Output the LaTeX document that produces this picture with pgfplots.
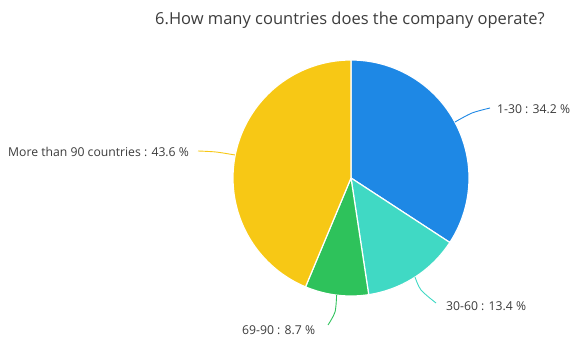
\documentclass[border=0pt]{standalone}
\usepackage{pgfplots}
\pgfplotsset{compat=1.18}
\usepackage{fontspec}
\setmainfont{Open Sans}
\definecolor{cblue}{RGB}{30,136,229}
\definecolor{cturq}{RGB}{64,217,196}
\definecolor{cgreen}{RGB}{46,194,91}
\definecolor{cyellow}{RGB}{247,200,21}
\definecolor{ctext}{RGB}{60,60,60}
\begin{document}
\begin{tikzpicture}
\begin{axis}[hide axis, scale only axis, width=573pt, height=338pt,
  xmin=0, xmax=573, ymin=0, ymax=338, clip=false]
% slices: 34.2, 13.4, 8.7, 43.6 percent, clockwise from top (angle = 90 - 3.6*cumulative)
\addplot[fill=cblue, draw=white, line width=1.2pt, domain=-33.12:90, samples=90, variable=\t]
  ({351+118*cos(\t)},{160+118*sin(\t)}) -- (axis cs:351,160) -- cycle;
\addplot[fill=cturq, draw=white, line width=1.2pt, domain=-81.36:-33.12, samples=40, variable=\t]
  ({351+118*cos(\t)},{160+118*sin(\t)}) -- (axis cs:351,160) -- cycle;
\addplot[fill=cgreen, draw=white, line width=1.2pt, domain=-112.68:-81.36, samples=30, variable=\t]
  ({351+118*cos(\t)},{160+118*sin(\t)}) -- (axis cs:351,160) -- cycle;
\addplot[fill=cyellow, draw=white, line width=1.2pt, domain=-270:-112.68, samples=110, variable=\t]
  ({351+118*cos(\t)},{160+118*sin(\t)}) -- (axis cs:351,160) -- cycle;
% leader lines
\addplot[cblue, line width=0.9pt, smooth] coordinates {(455,216) (472,225) (490,230)};
\addplot[cturq, line width=0.9pt, smooth] coordinates {(415,61) (421,48) (436,35)};
\addplot[cgreen, line width=0.9pt, smooth] coordinates {(336.6,43) (335,26) (328,13)};
\addplot[cyellow, line width=0.9pt, smooth] coordinates {(235,183) (216,186) (198,187)};
% labels
\node[anchor=west, inner sep=0pt, text=ctext, font=\fontsize{16.5}{18}\selectfont] at (axis cs:155,318) {6.How many countries does the company operate?};
\node[anchor=west, inner sep=0pt, text=ctext, font=\fontsize{12.2}{14}\selectfont] at (axis cs:497,229) {1-30 : 34.2 \%};
\node[anchor=west, inner sep=0pt, text=ctext, font=\fontsize{12.2}{14}\selectfont] at (axis cs:446,31.5) {30-60 : 13.4 \%};
\node[anchor=west, inner sep=0pt, text=ctext, font=\fontsize{12.2}{14}\selectfont] at (axis cs:242,8) {69-90 : 8.7 \%};
\node[anchor=west, inner sep=0pt, text=ctext, font=\fontsize{12.2}{14}\selectfont] at (axis cs:8,186.5) {More than 90 countries : 43.6 \%};
\end{axis}
\pgfresetboundingbox
\path (0,0) rectangle (573pt,338pt);
\end{tikzpicture}
\end{document}
